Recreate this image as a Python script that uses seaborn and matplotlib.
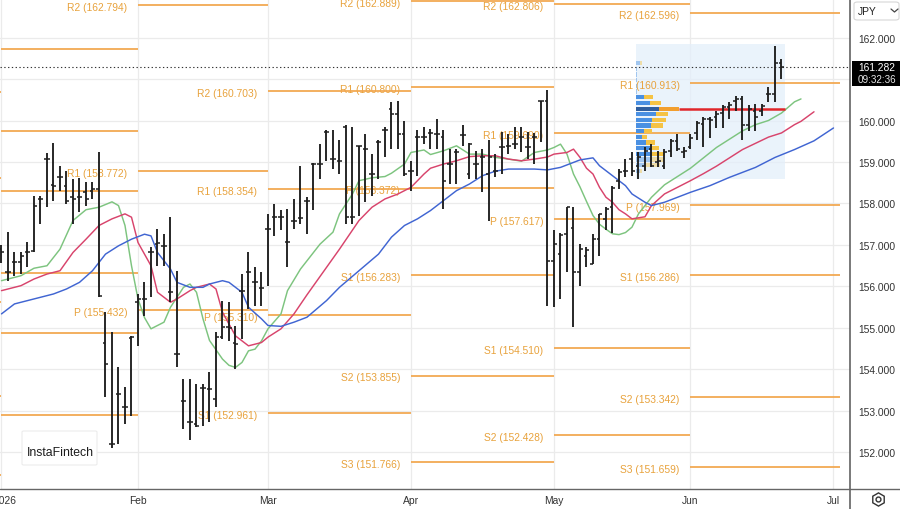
import numpy as np
import pandas as pd
import matplotlib
matplotlib.use("Agg")
import matplotlib.pyplot as plt
import matplotlib.transforms as mtransforms
from matplotlib.patches import Rectangle, FancyBboxPatch
from matplotlib.lines import Line2D
import seaborn as sns

# ---------------- data ----------------
bar_idx = list(range(1, 122))
opens = [156.90, 156.34, 156.58, 156.60, 156.82, 156.86, 158.11, 159.07, 158.45, 158.63,
         158.43, 158.15, 158.15, 158.27, 158.31, 158.35, 154.65, 152.20, 153.41, 153.09,
         154.75, 155.62, 155.71, 156.82, 157.02, 156.98, 155.86, 154.37, 153.25, 152.73,
         152.69, 153.55, 153.53, 153.29, 154.78, 155.02, 154.65, 155.90, 156.36, 156.10,
         155.96, 157.38, 157.67, 157.68, 157.07, 157.59, 157.65, 158.05, 158.95, 158.95,
         159.72, 159.07, 159.03, 159.85, 157.68, 159.39, 159.31, 158.70, 159.47, 159.77,
         160.28, 160.16, 159.68, 158.78, 159.60, 159.60, 159.69, 159.68, 159.60, 158.95,
         159.23, 159.64, 158.71, 158.95, 159.11, 158.71, 158.79, 159.35, 159.39, 159.43,
         159.60, 159.35, 159.60, 160.46, 160.46, 156.62, 156.78, 157.26, 157.40, 156.34,
         156.74, 156.54, 157.14, 157.63, 157.91, 158.55, 158.79, 159.07, 158.91, 158.91,
         159.31, 158.99, 158.91, 159.27, 159.51, 159.23, 159.35, 159.69, 159.91, 160.04,
         160.09, 160.17, 160.32, 160.48, 160.52, 159.88, 160.24, 160.24, 160.64, 160.64,
         161.38]
highs = [157.00, 157.31, 156.82, 156.82, 157.08, 158.19, 158.19, 159.22, 159.46, 158.90,
         158.79, 158.59, 158.61, 158.51, 158.51, 159.23, 155.38, 154.90, 154.05, 153.57,
         154.81, 155.82, 156.10, 156.94, 157.38, 157.26, 157.67, 156.38, 153.77, 153.77,
         153.65, 153.65, 153.93, 154.90, 155.66, 155.63, 155.06, 156.30, 156.82, 156.46,
         156.34, 157.75, 157.99, 157.84, 157.87, 158.11, 158.91, 158.15, 158.98, 159.43,
         159.76, 159.76, 159.52, 159.88, 159.85, 159.39, 159.68, 159.19, 159.52, 159.84,
         160.44, 160.48, 160.00, 159.03, 159.76, 159.84, 159.80, 160.04, 159.76, 159.31,
         159.31, 159.88, 159.45, 159.27, 159.31, 159.53, 159.19, 159.72, 159.68, 159.84,
         159.84, 159.72, 159.69, 160.48, 160.74, 157.35, 157.30, 157.92, 157.92, 157.02,
         156.94, 157.26, 157.75, 157.91, 158.43, 158.83, 159.07, 159.23, 159.23, 159.35,
         159.43, 159.27, 159.31, 159.55, 159.67, 159.35, 159.67, 159.99, 160.08, 160.08,
         160.24, 160.38, 160.44, 160.60, 160.60, 160.38, 160.40, 160.40, 160.80, 161.80,
         161.48]
lows = [156.57, 156.14, 156.26, 156.30, 156.46, 156.82, 157.51, 157.91, 158.07, 158.31,
        157.99, 157.51, 157.79, 157.95, 158.11, 155.74, 153.33, 152.12, 152.20, 152.69,
        152.89, 154.57, 155.30, 155.74, 156.50, 156.50, 155.62, 154.05, 152.57, 152.29,
        152.61, 152.65, 152.73, 153.09, 154.73, 154.69, 154.01, 154.73, 155.46, 155.54,
        155.54, 156.02, 157.22, 157.35, 156.46, 157.39, 157.51, 157.27, 157.84, 158.59,
        159.03, 158.83, 158.71, 157.51, 157.51, 157.71, 158.03, 158.19, 158.59, 159.11,
        159.31, 159.31, 158.67, 158.31, 158.67, 159.43, 159.31, 159.31, 157.87, 158.47,
        158.47, 159.39, 158.59, 158.59, 158.27, 157.59, 158.63, 158.71, 159.19, 159.31,
        159.23, 159.07, 158.95, 159.47, 155.54, 155.50, 155.70, 156.34, 155.02, 156.02,
        156.46, 156.54, 156.74, 157.35, 157.30, 158.35, 158.63, 158.67, 158.59, 158.79,
        158.87, 158.87, 158.83, 159.11, 159.27, 159.10, 159.31, 159.53, 159.35, 159.59,
        159.83, 159.83, 160.04, 160.24, 159.53, 159.75, 159.74, 160.12, 160.44, 160.44,
        161.00]
closes = [156.82, 156.36, 156.60, 156.74, 156.84, 157.95, 158.12, 159.07, 158.43, 158.63,
          158.07, 158.11, 158.15, 158.11, 158.35, 155.78, 154.13, 152.20, 153.41, 153.09,
          154.78, 155.71, 155.71, 156.82, 157.05, 156.98, 155.86, 154.37, 153.25, 152.73,
          152.65, 153.55, 153.53, 154.78, 155.02, 155.00, 154.61, 155.90, 156.36, 156.10,
          155.96, 157.38, 157.67, 157.68, 157.07, 157.59, 157.65, 158.05, 158.95, 158.95,
          159.72, 159.07, 159.03, 157.68, 157.68, 159.39, 159.31, 158.70, 159.47, 159.77,
          160.16, 159.68, 158.71, 158.78, 159.60, 159.60, 159.69, 159.68, 158.55, 158.95,
          159.23, 159.64, 159.43, 158.95, 159.11, 159.11, 158.79, 159.35, 159.39, 159.43,
          159.60, 159.35, 159.60, 160.46, 156.62, 157.02, 157.23, 157.91, 156.34, 156.90,
          156.88, 157.14, 157.75, 157.87, 158.37, 158.75, 158.79, 158.79, 159.11, 159.27,
          158.91, 159.03, 159.23, 159.50, 159.31, 159.26, 159.59, 159.93, 160.04, 160.01,
          160.16, 160.32, 160.38, 160.52, 159.88, 160.28, 160.08, 160.36, 160.64, 161.38,
          161.28]
last_price = 161.282
last_time = "09:32:36"
currency = "JPY"

# Alligator-style averages (bar index, value)
green_idx = [1, 4, 6, 8, 10, 12, 14, 16, 18, 19, 20, 21, 22, 23, 24, 26, 27, 29, 30, 31,
             32, 33, 35, 36, 37, 38, 39, 40, 41, 42, 44, 45, 47, 50, 52, 53, 55, 56, 58, 60,
             61, 63, 64, 66, 67, 69, 71, 73, 75, 77, 79, 81, 83, 85, 86, 87, 88, 89, 90, 91,
             92, 93, 94, 95, 96, 97, 98, 99, 101, 103, 105, 107, 109, 111, 113, 115, 117, 119,
             121, 123, 124]
green_val = [156.14, 156.26, 156.44, 156.50, 156.90, 157.59, 157.85, 157.91, 158.04, 157.95,
             157.47, 156.50, 155.70, 155.25, 154.98, 155.14, 155.50, 155.98, 156.06, 155.86,
             155.22, 154.70, 154.25, 154.10, 154.05, 154.17, 154.45, 154.49, 154.69, 154.98,
             155.34, 155.90, 156.42, 157.02, 157.31, 157.75, 158.23, 158.55, 158.62, 158.65,
             158.73, 158.95, 159.23, 159.29, 159.18, 159.27, 159.39, 159.19, 159.19, 159.11,
             159.07, 159.02, 159.23, 159.29, 159.35, 159.43, 159.19, 158.71, 158.40, 158.05,
             157.71, 157.50, 157.38, 157.27, 157.25, 157.30, 157.43, 157.75, 158.15, 158.45,
             158.65, 158.85, 159.10, 159.35, 159.55, 159.75, 159.90, 160.00, 160.18, 160.45,
             160.52]
red_idx = [1, 4, 6, 8, 10, 12, 14, 16, 18, 20, 21, 22, 24, 25, 27, 28, 30, 31, 33, 34,
           35, 37, 39, 41, 42, 44, 46, 48, 51, 53, 56, 58, 60, 62, 64, 66, 67, 69, 71, 73,
           75, 77, 79, 81, 83, 85, 86, 88, 89, 90, 91, 92, 93, 94, 95, 96, 97, 98, 100, 101,
           103, 105, 107, 109, 111, 113, 115, 117, 119, 121, 123, 124, 126]
red_val = [155.90, 156.02, 156.18, 156.30, 156.38, 156.82, 157.14, 157.47, 157.63, 157.75,
           157.67, 157.06, 156.50, 155.86, 155.62, 155.70, 155.90, 155.98, 156.06, 155.94,
           155.38, 154.81, 154.57, 154.65, 154.78, 154.98, 155.34, 155.80, 156.46, 156.90,
           157.59, 157.91, 158.11, 158.23, 158.39, 158.71, 158.85, 158.95, 159.03, 159.13,
           159.15, 159.15, 159.07, 159.03, 159.07, 159.12, 159.19, 159.23, 159.31, 159.11,
           158.85, 158.71, 158.39, 158.15, 158.03, 157.85, 157.75, 157.63, 157.68, 157.95,
           158.23, 158.39, 158.55, 158.72, 158.90, 159.10, 159.30, 159.45, 159.60, 159.70,
           159.90, 159.98, 160.21]
blue_idx = [1, 3, 5, 7, 9, 11, 13, 15, 17, 19, 21, 23, 24, 25, 27, 28, 30, 32, 33, 35,
            36, 38, 39, 41, 42, 44, 46, 48, 51, 53, 56, 59, 61, 63, 65, 67, 69, 71, 73, 75,
            77, 79, 81, 83, 85, 87, 89, 90, 92, 93, 95, 97, 98, 100, 101, 103, 105, 107, 110,
            113, 117, 120, 123, 126, 129]
blue_val = [155.34, 155.58, 155.66, 155.74, 155.82, 155.94, 156.10, 156.38, 156.78, 156.98,
            157.14, 157.26, 157.22, 156.82, 156.42, 156.10, 155.98, 155.98, 156.06, 156.14,
            156.10, 155.86, 155.50, 155.22, 155.06, 155.04, 155.14, 155.26, 155.66, 155.98,
            156.38, 156.78, 157.19, 157.47, 157.63, 157.83, 158.07, 158.31, 158.47, 158.67,
            158.78, 158.83, 158.83, 158.83, 158.81, 158.87, 158.99, 159.05, 159.10, 158.91,
            158.67, 158.43, 158.23, 158.03, 157.95, 158.03, 158.15, 158.27, 158.43, 158.63,
            158.87, 159.11, 159.30, 159.51, 159.82]

# month axis
month_ticks = [1, 22, 42, 64, 86, 107, 129]
month_labels = ["2026", "Feb", "Mar", "Apr", "May", "Jun", "Jul"]

# monthly pivot levels
seg_start = [-20, 1, 22, 42, 64, 86, 107]
seg_end = [1, 22, 42, 64, 86, 107, 130]
piv_dec_names = ["", "", "", "", ""]
piv_dec_vals = [160.69, 158.62, 155.63, 153.36, 151.46]
piv_jan_names = ["", "", "", "", "", ""]
piv_jan_vals = [161.72, 159.75, 158.30, 156.33, 154.89, 152.91]
piv_feb_names = ["R2", "R1", "P"]
piv_feb_vals = [162.794, 158.772, 155.432]
piv_mar_names = ["R2", "R1", "P", "S1"]
piv_mar_vals = [160.703, 158.354, 155.310, 152.961]
piv_apr_names = ["R2", "R1", "P", "S1", "S2", "S3"]
piv_apr_vals = [162.889, 160.800, 158.372, 156.283, 153.855, 151.766]
piv_may_names = ["R2", "R1", "P", "S1", "S2"]
piv_may_vals = [162.806, 159.690, 157.617, 154.510, 152.428]
piv_jun_names = ["R2", "R1", "P", "S1", "S2", "S3"]
piv_jun_vals = [162.596, 160.913, 157.969, 156.286, 153.342, 151.659]

# volume profile (price row, buy volume, sell volume)
vp_price = [161.38, 161.24, 161.11, 160.97, 160.83, 160.70, 160.56, 160.42, 160.28, 160.15,
            160.01, 159.88, 159.74, 159.60, 159.47, 159.33, 159.20, 159.06, 158.92, 158.79]
vp_buy = [4, 1.5, 1, 1, 1.5, 1, 7.7, 13.7, 22.7, 20.3, 16, 15.3, 8.3, 6, 10.3, 14.3, 16,
          14.3, 10.3, 4.3]
vp_sell = [2, 0, 0, 0, 0, 0, 9.3, 11.3, 20, 12.3, 14.3, 11.7, 7.7, 5, 9, 9.3, 13.3, 14,
           14, 1.7]
vp_start_bar = 98.6
vp_end_bar = 121.5
vp_low = 158.59
vp_high = 161.84
value_area = (159.15, 160.62)

# ---------------- style ----------------
sns.set_theme(style="white")
plt.rcParams["font.family"] = ["Liberation Sans", "DejaVu Sans"]

PIV_LINE = "#f2a64c"
PIV_TEXT = "#e8a23c"
BAR_COL = "#1e1e1e"
GRID = "#ebebeb"
TXT = "#333333"
FS = 7.4

W, H = 900, 510
fig = plt.figure(figsize=(W / 100, H / 100), dpi=100)
fig.patch.set_facecolor("white")
ax = fig.add_axes([0, 20 / H, 850 / W, 490 / H])
ax.set_facecolor("white")
ax.set_xlim(0.77, 131.54)
ax.set_ylim(151.12, 162.928)

# grid / ticks
ax.set_yticks(range(152, 163))
ax.set_yticklabels([f"{v:.3f}" for v in range(152, 163)])
ax.set_xticks(month_ticks)
ax.set_xticklabels(month_labels)
ax.grid(True, color=GRID, lw=0.9, zorder=0)
ax.set_axisbelow(True)
ax.yaxis.tick_right()
ax.tick_params(axis="y", length=0, pad=6, labelsize=FS, labelcolor=TXT)
ax.tick_params(axis="x", length=0, pad=4, labelsize=FS, labelcolor=TXT)
for s in ax.spines.values():
    s.set_visible(False)
# year label sits at the very left edge and is partly cut, as in the source
first_lbl = ax.get_xticklabels()[0]
first_lbl.set_transform(first_lbl.get_transform() +
                        mtransforms.ScaledTranslation(3.5 / 100, 0, fig.dpi_scale_trans))

# volume profile background box
ax.add_patch(Rectangle((vp_start_bar, vp_low), vp_end_bar - vp_start_bar, vp_high - vp_low,
                       facecolor="#e3effa", edgecolor="none", alpha=0.75, zorder=1))

# pivot lines and labels
segments = [
    (piv_dec_names, piv_dec_vals), (piv_jan_names, piv_jan_vals),
    (piv_feb_names, piv_feb_vals), (piv_mar_names, piv_mar_vals),
    (piv_apr_names, piv_apr_vals), (piv_may_names, piv_may_vals),
    (piv_jun_names, piv_jun_vals),
]
for (names, vals), s0, s1 in zip(segments, seg_start, seg_end):
    ax.hlines(vals, s0, s1, color=PIV_LINE, lw=1.25, zorder=2)
    for n, v in zip(names, vals):
        if not n:
            continue
        ax.annotate(f"{n} ({v:.3f})", xy=(s0, v), xytext=(-7.8, -1.4),
                    textcoords="offset points", ha="right", va="center",
                    color=PIV_TEXT, fontsize=FS, zorder=1.5, annotation_clip=False,
                    clip_on=True)

# volume profile rows
px_per_bar = 6.5
for p, b, s in zip(vp_price, vp_buy, vp_sell):
    inside = value_area[0] <= p <= value_area[1]
    alpha = 1.0 if inside else 0.45
    poc = b == max(vp_buy)
    bc = "#2f5e9e" if poc else "#4a90e2"
    sc = "#f29f2e" if poc else "#f5c344"
    ax.barh(p, b / px_per_bar, left=vp_start_bar, height=0.105, color=bc,
            alpha=alpha, zorder=3, linewidth=0)
    if s > 0:
        ax.barh(p, s / px_per_bar, left=vp_start_bar + b / px_per_bar, height=0.105,
                color=sc, alpha=alpha, zorder=3, linewidth=0)
poc_i = int(np.argmax(vp_buy))
poc_end = vp_start_bar + (vp_buy[poc_i] + vp_sell[poc_i]) / px_per_bar
ax.hlines(vp_price[poc_i], poc_end, vp_end_bar, color="#e0262a", lw=1.8, zorder=3.5)

# moving averages (seaborn)
ma_df = pd.DataFrame({
    "bar": green_idx + red_idx + blue_idx,
    "value": green_val + red_val + blue_val,
    "line": ["lips"] * len(green_idx) + ["teeth"] * len(red_idx) + ["jaw"] * len(blue_idx),
})
sns.lineplot(data=ma_df, x="bar", y="value", hue="line",
             palette={"lips": "#7dc47f", "teeth": "#d8446c", "jaw": "#4065d2"},
             legend=False, linewidth=1.05, ax=ax, zorder=3.2)
ax.set_xlabel("")
ax.set_ylabel("")

# OHLC bars
bi = np.array(bar_idx, dtype=float)
ax.vlines(bi, lows, highs, color=BAR_COL, lw=1.35, zorder=4)
ax.hlines(opens, bi - 0.45, bi, color=BAR_COL, lw=1.1, zorder=4)
ax.hlines(closes, bi, bi + 0.45, color=BAR_COL, lw=1.1, zorder=4)

# current price dotted line
ax.axhline(last_price, color="#333333", lw=0.8, ls=(0, (1.2, 2.2)), zorder=3.6)

# current price box on the right axis
bt = mtransforms.blended_transform_factory(ax.transAxes, ax.transData)
ax.add_patch(Rectangle((1.002, last_price - 0.45), 0.06, 0.602, transform=bt,
                       facecolor="black", edgecolor="none", clip_on=False, zorder=10))
ax.text(1.0095, last_price + 0.01, f"{last_price:.3f}", transform=bt, color="white",
        fontsize=FS, ha="left", va="center", clip_on=False, zorder=11)
ax.text(1.0095, last_price - 0.29, last_time, transform=bt, color="#e6e6e6",
        fontsize=FS - 0.3, ha="left", va="center", clip_on=False, zorder=11)

# frame lines (right price scale and time axis)
fig.add_artist(Line2D([850 / W, 850 / W], [0, 1], color="#555555", lw=1.1,
                      transform=fig.transFigure, zorder=6))
fig.add_artist(Line2D([0, 1], [20 / H, 20 / H], color="#666666", lw=1.0,
                      transform=fig.transFigure, zorder=6))

# currency selector
fig.add_artist(FancyBboxPatch((854 / W, 1 - 21 / H), 45 / W, 18 / H,
                              boxstyle="round,pad=0,rounding_size=0.004",
                              facecolor="white", edgecolor="#d6d6d6", lw=0.8,
                              transform=fig.transFigure, zorder=7))
fig.text(858 / W, 1 - 12 / H, currency, fontsize=FS, color="#222222",
         ha="left", va="center", zorder=8)
fig.add_artist(Line2D([891 / W, 894.5 / W, 898 / W], [1 - 10 / H, 1 - 13 / H, 1 - 10 / H],
                      color="#444444", lw=0.9, transform=fig.transFigure, zorder=8))

# settings icon
fig.add_artist(Line2D([878 / W], [1 - 500 / H], marker="h", markersize=9.5,
                      mfc="none", mec="#333333", mew=1.0, transform=fig.transFigure, zorder=8))
fig.add_artist(Line2D([878 / W], [1 - 500 / H], marker="o", markersize=3.5,
                      mfc="none", mec="#333333", mew=1.0, transform=fig.transFigure, zorder=8))

# watermark
fig.add_artist(FancyBboxPatch((22 / W, 1 - 466 / H), 75 / W, 34 / H,
                              boxstyle="round,pad=0,rounding_size=0.002",
                              facecolor="white", edgecolor="#ececec", lw=0.8,
                              transform=fig.transFigure, zorder=7))
fig.text(27 / W, 1 - 453 / H, "InstaFintech", fontsize=8.8, color="#1c1c1c",
         ha="left", va="center", zorder=8)

fig.savefig("out.png", dpi=100, facecolor="white")
